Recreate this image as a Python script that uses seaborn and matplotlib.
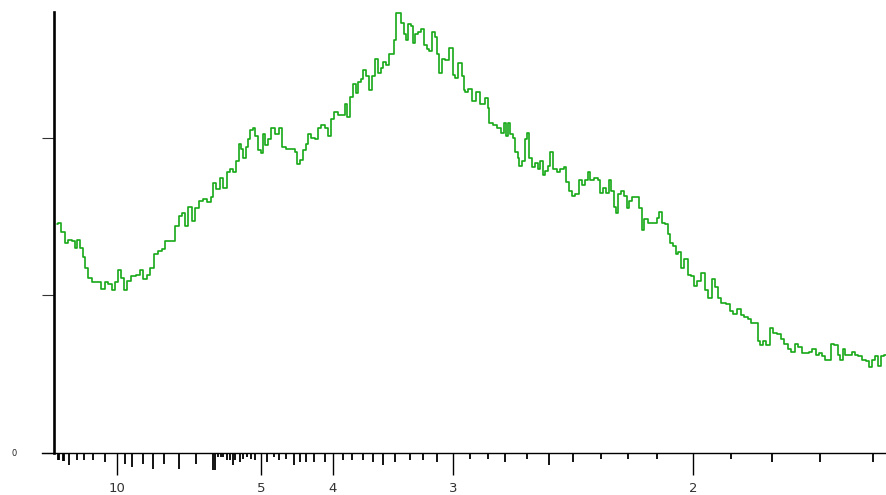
import numpy as np
import pandas as pd
import matplotlib
matplotlib.use("Agg")
import matplotlib.pyplot as plt
import matplotlib.transforms as mtransforms
import seaborn as sns

# ---- data ----
# scan position (degrees, linear axis) and intensity (arbitrary units, ticks every 100)
pos = [4.86, 5.02, 5.24, 5.49, 5.70, 5.95, 6.08, 6.22, 6.44, 6.54, 6.71, 6.96, 7.17, 7.49, 7.77,
       8.02, 8.23, 8.44, 8.66, 8.86, 9.04, 9.18, 9.39, 9.71, 10.02, 10.24, 10.45, 10.66, 10.87,
       11.14, 11.40, 11.61, 11.78, 12.03, 12.28, 12.46, 12.71, 12.92, 13.09, 13.30, 13.55, 13.72,
       13.97, 14.25, 14.52, 14.73, 14.84, 15.09, 15.30, 15.51, 15.72, 15.94, 16.15, 16.29, 16.46,
       16.57, 16.74, 16.89, 17.05, 17.20, 17.35, 17.52, 17.69, 17.84, 17.94, 18.15, 18.32, 18.53,
       18.79, 19.04, 19.21, 19.52, 19.84, 20.01, 20.16, 20.37, 20.58, 20.69, 20.85, 21.11, 21.32,
       21.49, 21.74, 21.95, 22.16, 22.33, 22.54, 22.80, 23.01, 23.18, 23.32, 23.54, 23.75, 23.85,
       24.06, 24.17, 24.38, 24.53, 24.70, 24.91, 25.12, 25.29, 25.44, 25.65, 25.79, 25.96, 26.17,
       26.28, 26.39, 26.60, 26.77, 26.91, 27.06, 27.19, 27.34, 27.48, 27.65, 27.86, 28.03, 28.18,
       28.39, 28.54, 28.71, 28.88, 29.02, 29.17, 29.34, 29.59, 29.87, 30.02, 30.19, 30.40, 30.60,
       30.65, 30.82, 31.03, 31.28, 31.55, 31.83, 32.09, 32.19, 32.34, 32.61, 32.88, 33.10, 33.25,
       33.35, 33.52, 33.67, 33.82, 33.99, 34.09, 34.24, 34.40, 34.58, 34.72, 34.87, 35.08, 35.25,
       35.42, 35.57, 35.72, 35.89, 36.05, 36.20, 36.41, 36.62, 36.90, 37.05, 37.19, 37.36, 37.57,
       37.82, 38.00, 38.20, 38.38, 38.58, 38.74, 39.01, 39.22, 39.37, 39.58, 39.72, 39.89, 40.07,
       40.21, 40.32, 40.48, 40.70, 40.91, 41.05, 41.21, 41.37, 41.69, 41.84, 41.97, 42.18, 42.43,
       42.74, 42.95, 43.11, 43.23, 43.49, 43.65, 43.80, 44.01, 44.12, 44.28, 44.50, 44.71, 44.92,
       45.13, 45.28, 45.55, 45.80, 46.02, 46.23, 46.44, 46.65, 46.82, 47.07, 47.39, 47.60, 47.81,
       48.08, 48.30, 48.51, 48.72, 48.93, 49.19, 49.35, 49.50, 49.71, 49.86, 50.14, 50.34, 50.62,
       50.83, 51.04, 51.29, 51.47, 51.72, 51.93, 52.14, 52.35, 52.61, 52.81, 53.02, 53.24, 53.40,
       53.62, 53.83, 54.00, 54.21, 54.42, 54.57, 54.71, 54.89, 55.09, 55.30, 55.52, 55.73, 55.98,
       56.25, 56.41, 56.57, 56.79, 56.95, 57.17, 57.37]
intensity = [145, 146, 140, 133, 135, 134, 130, 135, 130, 124, 117, 111, 108, 108, 104,
             108, 107, 103, 108, 116, 111, 103, 109, 112, 113, 116, 110, 113, 117,
             126, 128, 129, 134, 134, 134, 144, 150, 152, 144, 156, 147, 155,
             160, 161, 159, 162, 171, 167, 174, 168, 178, 180, 178, 185, 196,
             193, 187, 194, 199, 205, 206, 201, 192, 190, 202, 195, 199, 206,
             202, 206, 194, 193, 193, 191, 183, 186, 192, 196, 202, 200, 199,
             206, 208, 206, 201, 212, 216, 214, 214, 221, 213, 226, 234, 228,
             235, 237, 243, 239, 230, 239, 250, 241, 244, 248, 246, 253, 253,
             262, 279, 279, 273, 266, 262, 272, 271, 260, 266, 267, 269, 259,
             256, 255, 267, 264, 253, 241, 250, 249, 257, 240, 238, 247, 239,
             230, 229, 231, 223, 229, 221, 225, 219, 209, 208, 206, 203, 209,
             201, 209, 202, 200, 191, 187, 182, 185, 199, 203, 187, 181, 184,
             180, 185, 176, 179, 182, 191, 180, 178, 180, 181, 172, 166, 163,
             164, 173, 170, 173, 178, 173, 174, 173, 165, 168, 165, 173, 166,
             156, 152, 164, 166, 163, 155, 160, 162, 162, 155, 141, 148, 146,
             146, 149, 153, 146, 145, 139, 133, 131, 126, 127, 117, 123, 113,
             112, 106, 109, 114, 103, 98, 110, 105, 98, 95, 94, 90, 88,
             91, 87, 86, 85, 82, 82, 71, 68, 71, 68, 79, 76, 75,
             72, 69, 66, 64, 69, 67, 63, 63, 64, 66, 62, 63, 61,
             59, 59, 69, 68, 62, 59, 66, 62, 62, 64, 62, 61, 59,
             58, 54, 59, 61, 55, 61, 62]

# reference pattern sticks below the axis: positions and relative heights
ref_pos = [4.93, 5.00, 5.24, 5.34, 5.65, 6.12, 6.60, 7.17, 7.91, 9.18, 9.64, 10.34, 10.97,
           11.65, 12.62, 13.68, 14.77, 14.86, 15.09, 15.24, 15.41, 15.62, 15.83, 16.04, 16.15,
           16.46, 16.67, 16.89, 17.14, 17.41, 18.15, 18.62, 18.95, 19.38, 19.90, 20.26, 20.64,
           21.17, 21.85, 22.97, 23.54, 24.23, 24.87, 25.54, 26.28, 27.23, 28.03, 28.92, 31.03,
           32.19, 33.24, 34.66, 36.01, 37.53, 39.31, 41.05, 42.89, 47.54, 50.14, 53.19, 56.53]
ref_height = [7, 7, 8, 8, 12.7, 7, 7, 7, 9.3, 11, 14, 11, 16.7,
              11, 16.7, 11, 17, 17, 4, 4, 4.5, 7.7, 7.7, 12.7, 7.7,
              9.3, 6, 4.5, 6, 7.7, 9.3, 4.5, 7.7, 6, 12.7, 9.3, 9.3,
              9.3, 9.3, 7, 7, 7, 9.3, 12.7, 9.3, 7, 7, 9.3, 6.7,
              6.7, 9, 6.7, 12.3, 9, 6.7, 6.7, 6.7, 6.7, 9, 9, 9]

# d-spacing tick labels (Angstrom)
d_ticks = [10, 5, 4, 3, 2]
# axis calibration: position = A + B / d
CAL_A, CAL_B = -0.473, 91.286

df = pd.DataFrame({"pos": pos, "intensity": intensity})

# ---- plotting ----
sns.set_theme(style="ticks")
plt.rcParams["font.family"] = ["DejaVu Sans"]

W, H = 887, 495
fig = plt.figure(figsize=(W / 100, H / 100), dpi=100)
ax = fig.add_axes([42 / W, (H - 452.5) / H, (W - 42) / W, (452.5 - 11.5) / H])

sns.lineplot(data=df, x="pos", y="intensity", ax=ax, color="#17a817", linewidth=1.2,
             estimator=None, sort=False, drawstyle="steps-mid")

ax.set_xlim(3.925, 57.44)
ax.set_ylim(0, 280)

for s in ["top", "right"]:
    ax.spines[s].set_visible(False)
ax.spines["left"].set_position(("data", 4.685))
ax.spines["left"].set_linewidth(1.9)
ax.spines["left"].set_color("black")
ax.spines["bottom"].set_linewidth(1.0)
ax.spines["bottom"].set_color("black")

# y ticks: 0,100,200, only 0 labelled
ax.set_yticks([0, 100, 200])
ax.set_yticklabels(["0", "", ""])
ax.tick_params(axis="y", direction="out", length=8.6, width=0.8, color="#333333",
               pad=18, labelsize=6, labelcolor="#222222")

# x ticks at d-spacings
xt = [CAL_A + CAL_B / d for d in d_ticks]
ax.set_xticks(xt)
ax.set_xticklabels([str(d) for d in d_ticks])
ax.tick_params(axis="x", direction="out", length=16, width=1.0, color="black",
               pad=5.5, labelsize=9.5, labelcolor="#333333")

# reference sticks below axis
trans = mtransforms.blended_transform_factory(ax.transData, ax.transAxes)
axh = 452.5 - 11.5
ax.vlines(ref_pos, 0, [-h / axh for h in ref_height], transform=trans,
          colors="black", linewidth=1.3, clip_on=False)

ax.set_xlabel("")
ax.set_ylabel("")
ax.grid(False)

fig.savefig("out.png", dpi=100)
